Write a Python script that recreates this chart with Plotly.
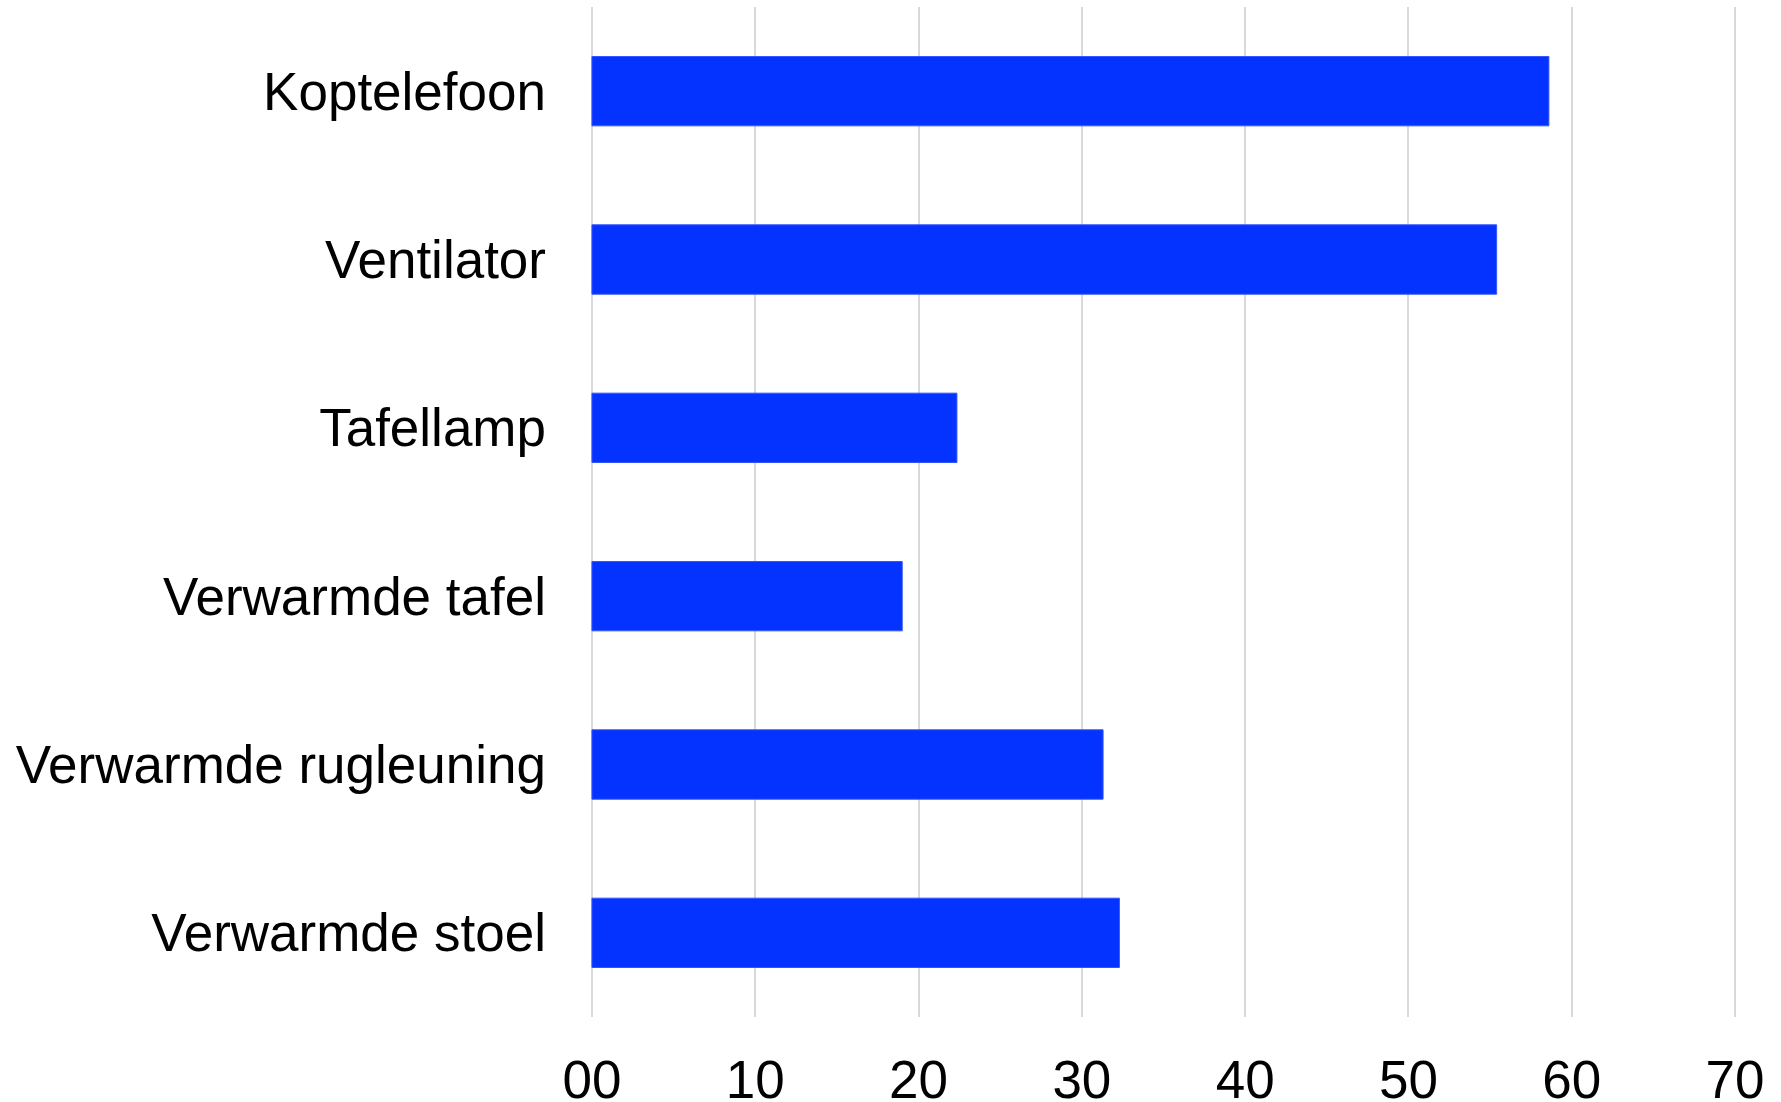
import plotly.graph_objects as go

categories = ["Koptelefoon", "Ventilator", "Tafellamp", "Verwarmde tafel",
              "Verwarmde rugleuning", "Verwarmde stoel"]
values = [58.6, 55.4, 22.35, 19.0, 31.3, 32.3]
tick_vals = [0, 10, 20, 30, 40, 50, 60, 70]
tick_text = ["00", "10", "20", "30", "40", "50", "60", "70"]

fig = go.Figure(go.Bar(
    x=values, y=categories, orientation="h",
    marker=dict(color="#0433ff", line=dict(color="#3355ff", width=1)),
    width=0.412,
))

font = dict(family="Liberation Sans, Arial, sans-serif", size=53, color="#000000")

fig.update_layout(
    width=1781, height=1102,
    margin=dict(l=590, r=44, t=7, b=85, autoexpand=False),
    paper_bgcolor="white", plot_bgcolor="white",
    showlegend=False,
    font=font,
    xaxis=dict(range=[-0.12, 70.12], tickvals=tick_vals, ticktext=tick_text,
               showgrid=True, gridcolor="#d9d9d9", gridwidth=2,
               zeroline=False, showline=False, ticks="",
               ticklabelstandoff=27, tickfont=font),
    yaxis=dict(categoryorder="array", categoryarray=categories,
               autorange="reversed", showgrid=False, zeroline=False,
               showline=False, ticks="", ticklabelstandoff=43, tickfont=font),
)

fig.write_html(
    "out.html",
    config={"displayModeBar": False},
    post_script="document.body.style.margin='0';document.body.style.overflow='hidden';",
)
